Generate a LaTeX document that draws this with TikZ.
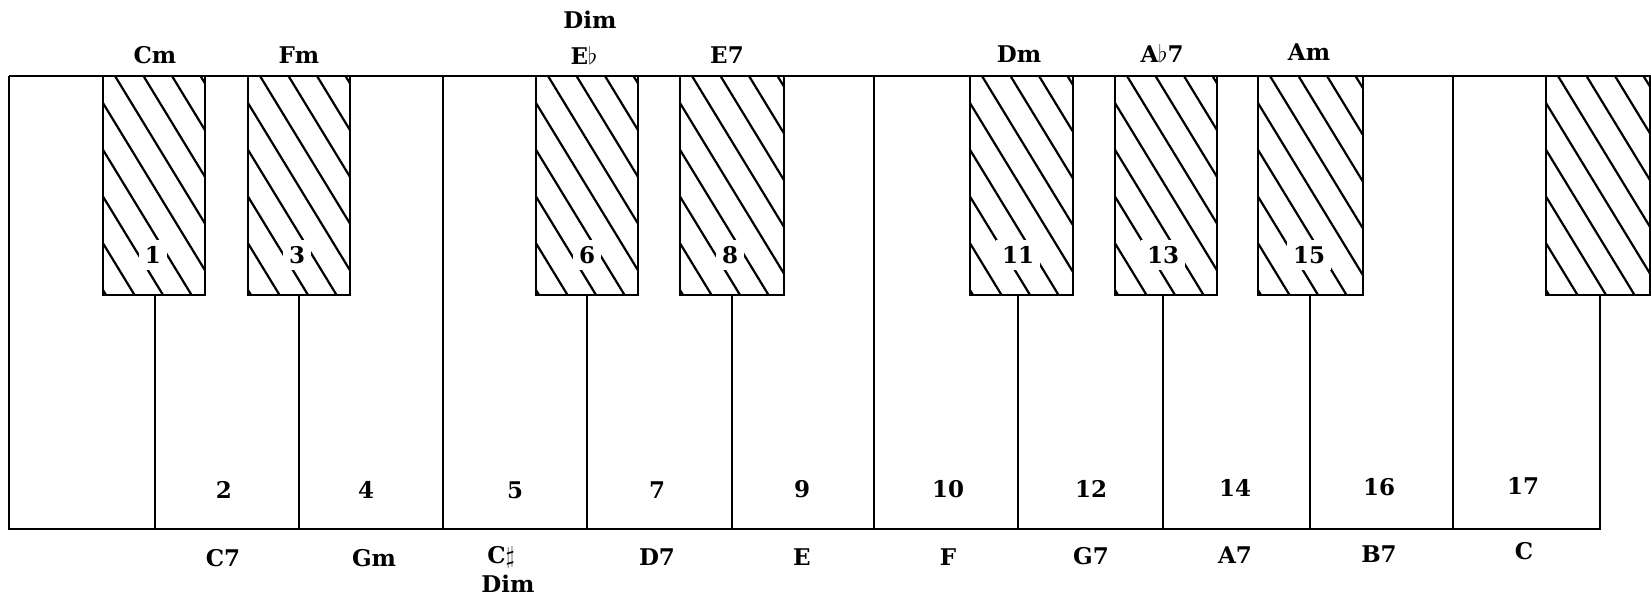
\documentclass[tikz,border=0pt]{standalone}
\usepackage{fontspec}
\setmainfont{DejaVu Serif}
\newcommand\ktop{76}
\newcommand\kbot{295}
\newcommand\kend{529}
\newcommand\blackkey[4]{% left, right, number, number x
  \begin{scope}
    \clip (#1,\ktop) rectangle (#2,\kbot);
    \foreach \k in {-6,...,4} {
      \draw[hatchline] ({#1+12+28.5*\k},\ktop) -- ++(200,328);
    }
  \end{scope}
  \draw[outline] (#1,\ktop) rectangle (#2,\kbot);
  \if\relax\detokenize{#3}\relax\else
    \node[num] (n#3) at (#4,255) {#3};
  \fi
}
\begin{document}
\begin{tikzpicture}[x=0.5pt,y=-0.5pt,
  outline/.style={line width=1.35pt},
  hatchline/.style={line width=1.1pt},
  lbl/.style={font=\bfseries\fontsize{11.5}{13}\selectfont, inner sep=0pt},
  num/.style={font=\bfseries\fontsize{11.5}{13}\selectfont, fill=white, inner sep=3pt},
]
\useasboundingbox (0,0) rectangle (1651,600);
% keyboard outline
\draw[outline] (9,\ktop) -- (1651,\ktop);
\draw[outline] (9,\ktop) -- (9,\kend) -- (1600,\kend) -- (1600,\kbot);
\foreach \x in {443,874,1453} \draw[outline] (\x,\ktop) -- (\x,\kend);
\foreach \x in {155,299,587,732,1018,1163,1310} \draw[outline] (\x,\kbot) -- (\x,\kend);
% black keys
\blackkey{103}{205}{1}{153}
\blackkey{248}{350}{3}{297}
\blackkey{536}{638}{6}{587}
\blackkey{680}{784}{8}{730}
\blackkey{970}{1073}{11}{1018}
\blackkey{1115}{1217}{13}{1163}
\blackkey{1258}{1363}{15}{1309}
\blackkey{1546}{1650}{}{}
% white key numbers
\node[lbl] (n2) at (224,490) {2};
\node[lbl] (n4) at (366,490) {4};
\node[lbl] (n5) at (515,490) {5};
\node[lbl] (n7) at (657,490) {7};
\node[lbl] (n9) at (802,489) {9};
\node[lbl] (n10) at (948,489) {10};
\node[lbl] (n12) at (1091,489) {12};
\node[lbl] (n14) at (1235,488) {14};
\node[lbl] (n16) at (1379,487) {16};
\node[lbl] (n17) at (1523,486) {17};
% top chord labels
\node[lbl] (lCm) at (155,55) {Cm};
\node[lbl] (lFm) at (299,55) {Fm};
\node[lbl] (lDimA) at (590,20) {Dim};
\node[lbl] (lEb) at (584,55) {E$\flat$};
\node[lbl] (lE7) at (727,55) {E7};
\node[lbl] (lDm) at (1019,54) {Dm};
\node[lbl] (lAb7) at (1162,53) {A$\flat$7};
\node[lbl] (lAm) at (1309,52) {Am};
% bottom chord labels
\node[lbl] (lC7) at (223,558) {C7};
\node[lbl] (lGm) at (374,558) {Gm};
\node[lbl] (lCs) at (501,557) {C$\sharp$};
\node[lbl] (lDimB) at (508,584) {Dim};
\node[lbl] (lD7) at (657,557) {D7};
\node[lbl] (lE) at (802,557) {E};
\node[lbl] (lF) at (948,557) {F};
\node[lbl] (lG7) at (1091,556) {G7};
\node[lbl] (lA7) at (1235,555) {A7};
\node[lbl] (lB7) at (1379,554) {B7};
\node[lbl] (lC) at (1524,551) {C};
\end{tikzpicture}
\end{document}
